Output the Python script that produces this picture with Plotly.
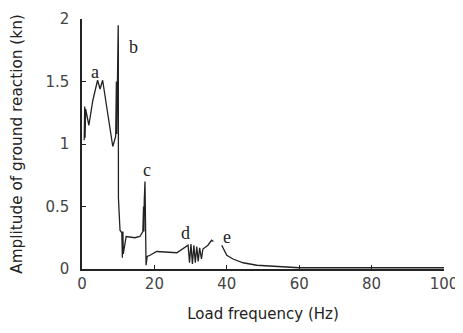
import plotly.graph_objects as go

freq = [0.6, 0.75, 0.85, 1.0, 1.9, 3.0, 4.3, 5.0, 5.7, 7.2, 8.5, 9.3, 9.5, 9.6, 9.8, 10.0, 10.02, 10.04, 10.06,
        10.5, 11.0, 11.15, 11.3, 11.4, 12.2, 14.6, 16.0, 16.8, 17.0, 17.1, 17.2, 17.4, 17.7, 18.0, 18.8,
        20.6, 26.2, 28.5, 29.3, 29.7, 30.1, 30.5, 30.9, 31.3, 31.7, 32.1, 32.5, 33.0, 33.4, 34.8, 35.8, 36.3,
        None, 38.6, 40.0, 41.7, 44.5, 48.3, 54.0, 60.0, 80.0, 100.0]
amp = [1.03, 1.30, 1.05, 1.28, 1.15, 1.35, 1.51, 1.44, 1.51, 1.22, 0.98, 1.06, 1.50, 1.08, 1.50, 1.95, 1.73, 1.79, 0.57,
       0.31, 0.29, 0.09, 0.30, 0.12, 0.26, 0.25, 0.26, 0.30, 0.50, 0.30, 0.55, 0.70, 0.03, 0.10, 0.11,
       0.14, 0.13, 0.17, 0.19, 0.05, 0.20, 0.04, 0.19, 0.05, 0.18, 0.06, 0.17, 0.08, 0.16, 0.19, 0.23, 0.22,
       None, 0.19, 0.11, 0.08, 0.05, 0.03, 0.02, 0.01, 0.01, 0.01]

peak_labels = ["a", "b", "c", "d", "e"]
peak_x = [3.6, 14.1, 18.0, 28.7, 40.0]
peak_y = [1.58, 1.78, 0.79, 0.29, 0.26]

x_ticks = [0, 20, 40, 60, 80, 100]
y_ticks = [0, 0.5, 1, 1.5, 2]

fig = go.Figure()
fig.add_trace(go.Scatter(x=freq, y=amp, mode="lines",
                         line=dict(color="#222222", width=1.3), connectgaps=False,
                         showlegend=False, hoverinfo="skip"))

for t, xv, yv in zip(peak_labels, peak_x, peak_y):
    fig.add_annotation(x=xv, y=yv, text=t, showarrow=False,
                       font=dict(family="Liberation Serif", size=18, color="#222222"))

fig.update_layout(
    width=455, height=325,
    margin=dict(l=74, r=19, t=11, b=64, autoexpand=False),
    paper_bgcolor="white", plot_bgcolor="white",
    font=dict(family="DejaVu Sans", size=14, color="#333333"),
)
fig.update_xaxes(range=[0, 100], tickvals=x_ticks, ticks="inside", ticklen=4, tickwidth=1.2,
                 tickcolor="#222222", showline=True, linecolor="#222222", linewidth=1.5,
                 showgrid=False, zeroline=False, automargin=False,
                 title=dict(text="Load frequency (Hz)", standoff=17, font=dict(size=15, color="#222222")),
                 tickfont=dict(size=15, color="#444444"))
fig.update_yaxes(range=[0, 2], tickvals=y_ticks, ticktext=["0", "0.5", "1", "1.5", "2"],
                 ticks="inside", ticklen=4, tickwidth=1.2,
                 tickcolor="#222222", showline=True, linecolor="#222222", linewidth=1.5,
                 showgrid=False, zeroline=False, ticklabelstandoff=8, automargin=False,
                 title=dict(text="Amplitude of ground reaction (kn)", standoff=20,
                            font=dict(size=15.3, color="#222222")),
                 tickfont=dict(size=15, color="#444444"))

fig.write_html("out.html")
